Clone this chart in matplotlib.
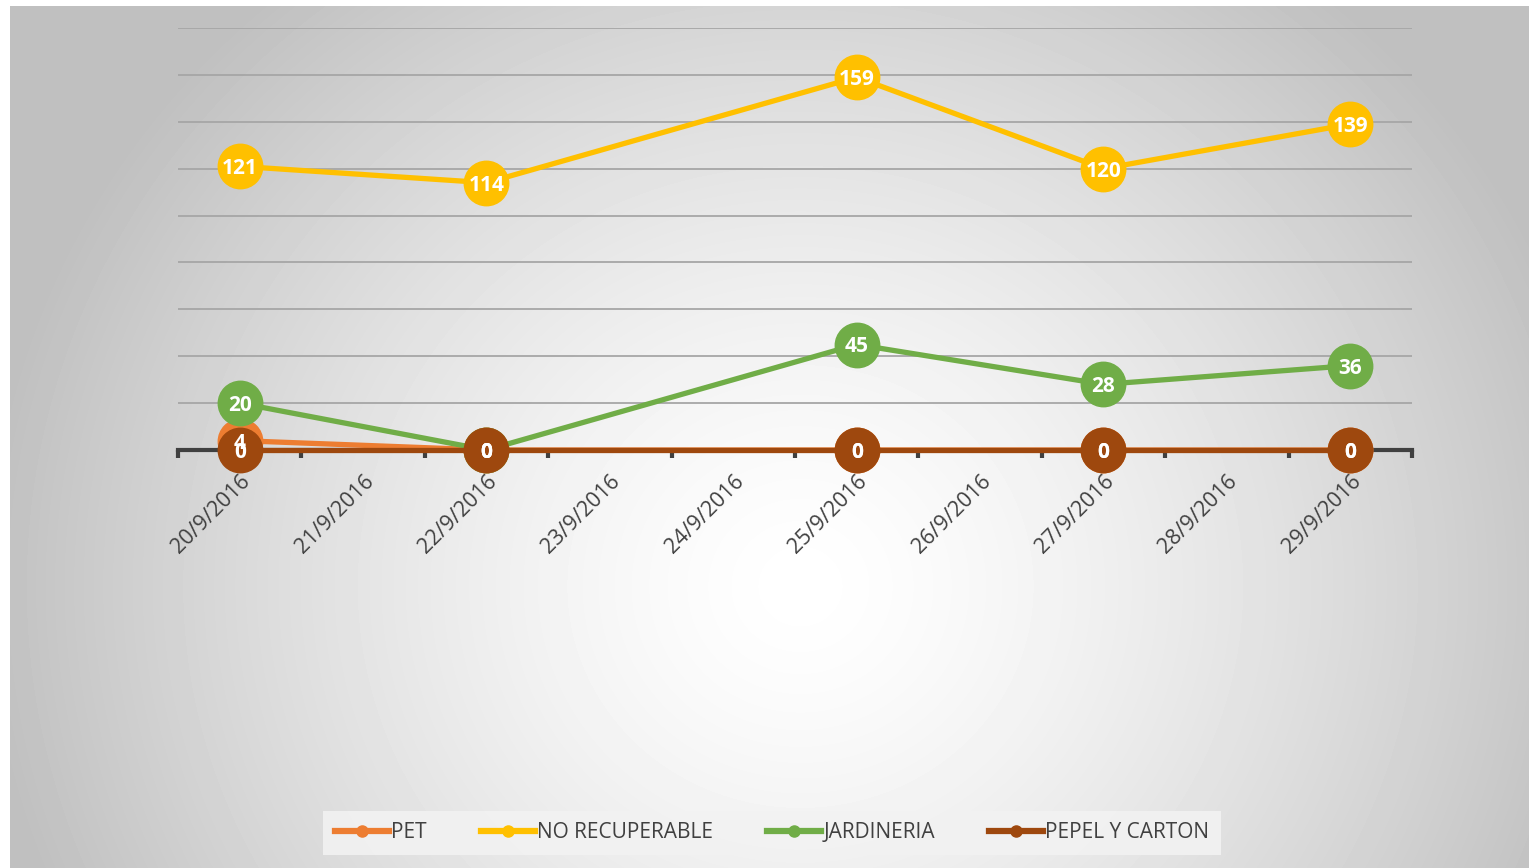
import numpy as np
import pandas as pd
import matplotlib
matplotlib.use("Agg")
import matplotlib.pyplot as plt
import matplotlib.dates as mdates
from matplotlib.ticker import FixedLocator, NullFormatter

# ------------------------------
# data

fechas = ["2016-09-20", "2016-09-22", "2016-09-25", "2016-09-27", "2016-09-29"]
pet = [4, 0, 0, 0, 0]
no_recuperable = [121, 114, 159, 120, 139]
jardineria = [20, 0, 45, 28, 36]
papel_carton = [0, 0, 0, 0, 0]

series = [
    ("PET", pet, "#ED7D31"),
    ("NO RECUPERABLE", no_recuperable, "#FFC000"),
    ("JARDINERIA", jardineria, "#70AD47"),
    ("PEPEL Y CARTON", papel_carton, "#9E480E"),
]

dias = pd.date_range("2016-09-20", "2016-09-29", freq="D")
x = pd.to_datetime(fechas)

plt.rcParams['font.family'] = ['Open Sans', 'DejaVu Sans']

W, H = 1529, 868
fig = plt.figure(figsize=(W / 100, H / 100), dpi=100)

# ------------------------------
# radial grey background of the chart area

bg = fig.add_axes([10 / W, 0, 1 - 10 / W, 1 - 6 / H], zorder=-10)
yy, xx = np.mgrid[0:862, 0:1519]
r = np.sqrt(((xx - 790) / 1.0) ** 2 + ((yy - 580) / 0.95) ** 2) / 820
r = np.clip(r, 0, 1)
val = 1.0 - 0.25 * r ** 1.4
bg.imshow(val, cmap="gray", vmin=0, vmax=1, aspect="auto", interpolation="bilinear")
bg.axis("off")

# ------------------------------

ax = fig.add_axes([178 / W, (H - 450) / H, 1234 / W, 422 / H])
ax.set_facecolor("none")

for name, vals, color in series:
    ax.plot(x, vals, color=color, lw=3.8, marker="o", markersize=32,
            solid_capstyle="round", label=name, clip_on=False, zorder=3)

for name, vals, color in series:
    for xi, v in zip(x, vals):
        ax.text(xi, v, str(v), color="white", fontsize=15, fontweight="bold",
                ha="center", va="center_baseline", zorder=10)

ax.set_ylim(0, 180)
ax.set_yticks(np.arange(20, 181, 20))
ax.yaxis.grid(True, color="#a6a6a6", lw=1.3)
ax.tick_params(axis="y", length=0, labelleft=False)

ax.set_xlim(dias[0] - pd.Timedelta(hours=12), dias[-1] + pd.Timedelta(hours=12))
ax.xaxis.set_major_locator(FixedLocator(mdates.date2num(dias)))
ax.set_xticklabels([f"{d.day}/{d.month}/{d.year}" for d in dias])
ax.xaxis.set_minor_locator(FixedLocator(mdates.date2num(dias - pd.Timedelta(hours=12)).tolist()
                                        + [mdates.date2num(dias[-1] + pd.Timedelta(hours=12))]))
ax.xaxis.set_minor_formatter(NullFormatter())
ax.tick_params(axis="x", which="major", length=0, pad=15, labelsize=15.5, labelcolor="#404040")
ax.tick_params(axis="x", which="minor", length=6, width=3, color="#404040", direction="out")
for lab in ax.get_xticklabels():
    lab.set_rotation(45)
    lab.set_ha("right")
    lab.set_va("top")
    lab.set_rotation_mode("anchor")

for s in ["top", "right", "left"]:
    ax.spines[s].set_visible(False)
ax.spines["bottom"].set_color("#404040")
ax.spines["bottom"].set_linewidth(3)
ax.set_axisbelow(True)

# ------------------------------
# legend

handles = [plt.Line2D([], [], color=c, lw=4.5, marker="o", markersize=8) for _, _, c in series]
leg = fig.legend(handles, [n for n, _, _ in series], loc="center", bbox_to_anchor=(772 / W, 1 - 833 / H),
                 ncol=4, frameon=True, fontsize=15, handlelength=2.6, handletextpad=0.1,
                 columnspacing=2.6, borderpad=0.55, borderaxespad=0, fancybox=False)
leg.get_frame().set_facecolor("#f2f2f2")
leg.get_frame().set_edgecolor("none")
leg.get_frame().set_alpha(0.9)
for t in leg.get_texts():
    t.set_color("#404040")

fig.savefig("out.png", dpi=100)
